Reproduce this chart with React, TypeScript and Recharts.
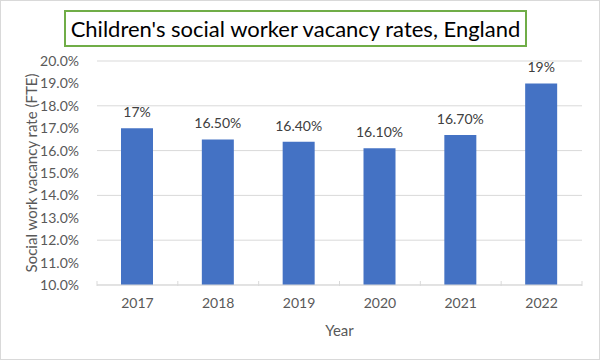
import React from "react";
import { BarChart, Bar, XAxis, YAxis, CartesianGrid, LabelList, Label } from "recharts";

const years = ["2017", "2018", "2019", "2020", "2021", "2022"];
const vacancyRates = [0.17, 0.165, 0.164, 0.161, 0.167, 0.19];
const valueLabels = ["17%", "16.50%", "16.40%", "16.10%", "16.70%", "19%"];
const yTicks = [0.1, 0.11, 0.12, 0.13, 0.14, 0.15, 0.16, 0.17, 0.18, 0.19, 0.2];

const data = years.map((y, i) => ({ year: y, rate: vacancyRates[i], label: valueLabels[i] }));

const FONT = "Lato, 'Open Sans', sans-serif";
const BAND = 485 / 6;

const XTick = (props: any) => {
  const { x, y, payload, index } = props;
  return (
    <g>
      <line x1={x - BAND / 2} x2={x - BAND / 2} y1={y - 12} y2={y - 7} stroke="#d9d9d9" />
      {index === years.length - 1 && (
        <line x1={x + BAND / 2} x2={x + BAND / 2} y1={y - 12} y2={y - 7} stroke="#d9d9d9" />
      )}
      <text x={x} y={y + 15} textAnchor="middle" fill="#595959" fontSize={14} fontFamily={FONT}>
        {payload.value}
      </text>
    </g>
  );
};

export default function App() {
  return (
    <div
      style={{
        position: "absolute",
        left: 0,
        top: 0,
        width: 598,
        height: 358,
        border: "1px solid #d9d9d9",
        background: "#fff",
        fontFamily: FONT,
      }}
    >
      <div
        style={{
          position: "absolute",
          left: 63,
          top: 9,
          width: 459,
          height: 33,
          border: "2px solid #70ad47",
          display: "flex",
          alignItems: "center",
          justifyContent: "center",
          fontSize: 22,
          color: "#000",
          fontFamily: FONT,
        }}
      >
        Children's social worker vacancy rates, England
      </div>
      <div style={{ position: "absolute", left: -1, top: -1 }}>
        <BarChart
          width={600}
          height={360}
          data={data}
          margin={{ top: 61, right: 18, bottom: 30, left: 0 }}
        >
          <CartesianGrid vertical={false} stroke="#d9d9d9" />
          <XAxis
            dataKey="year"
            axisLine={{ stroke: "#d9d9d9" }}
            tickLine={false}
            height={45}
            tick={<XTick />}
            interval={0}
          >
            <Label value="Year" position="insideBottom" offset={-6} fill="#595959" fontSize={15} fontFamily={FONT} />
          </XAxis>
          <YAxis
            domain={[0.1, 0.2]}
            ticks={yTicks}
            tickFormatter={(v: number) => (v * 100).toFixed(1) + "%"}
            axisLine={false}
            tickLine={false}
            width={97}
            tickMargin={12}
            tick={{ fill: "#595959", fontSize: 14, fontFamily: FONT }}
            allowDataOverflow
          >
            <Label
              value="Social work vacancy rate (FTE)"
              angle={-90}
              position="insideLeft"
              offset={32}
              style={{ textAnchor: "middle" }}
              fill="#595959"
              fontSize={15}
              fontFamily={FONT}
            />
          </YAxis>
          <Bar dataKey="rate" fill="#4472c4" barSize={32} isAnimationActive={false}>
            <LabelList dataKey="label" position="top" offset={11} fill="#404040" fontSize={14} fontFamily={FONT} />
          </Bar>
        </BarChart>
      </div>
    </div>
  );
}
